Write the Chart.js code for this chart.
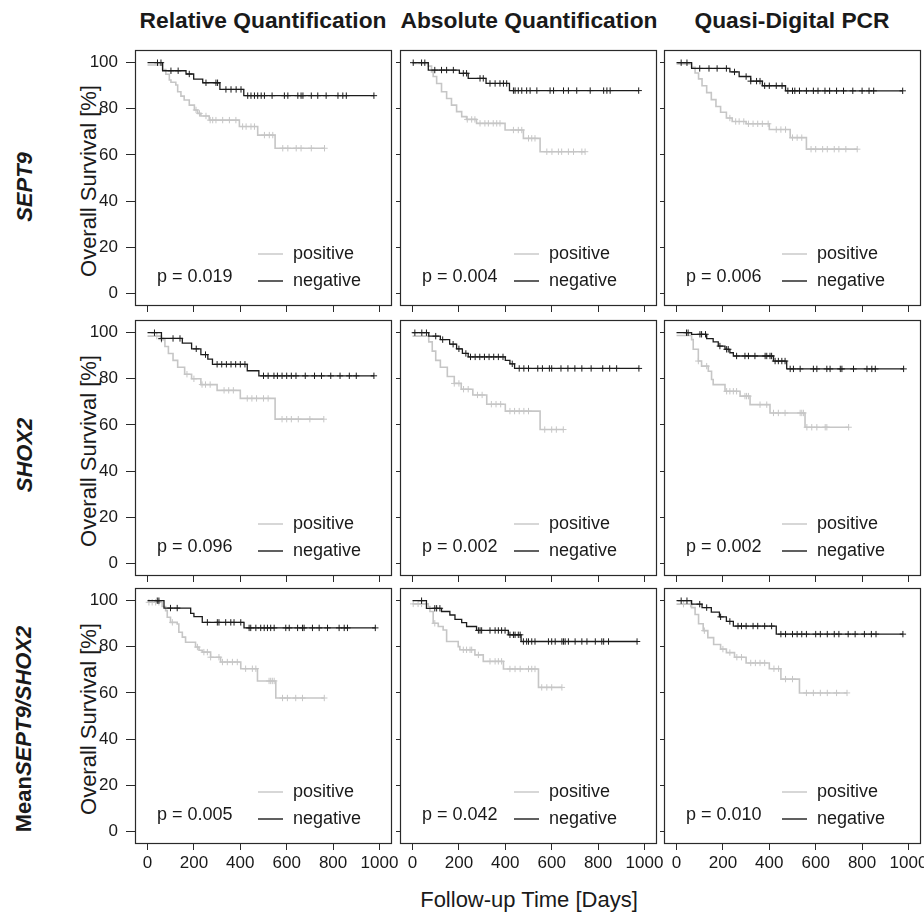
<!DOCTYPE html>
<html lang="en">
<head>
<meta charset="UTF-8">
<title>Overall survival by methylation status</title>
<script src="https://cdn.jsdelivr.net/npm/chart.js@4.4.0/dist/chart.umd.min.js"></script>
<style>
  body { margin: 0; background: #fff; }
  #wrap { position: relative; width: 924px; height: 913px; overflow: hidden;
          font-family: "Liberation Sans", Arial, Helvetica, sans-serif; color: #1a1a1a; }
  #wrap canvas { position: absolute; }
  .coltitle { position: absolute; top: 20px; transform: translate(-50%, -50%);
              font-weight: bold; font-size: 22.8px; white-space: nowrap; }
  .rot { position: absolute; transform: translate(-50%, -50%) rotate(-90deg); white-space: nowrap; }
  .rowlabel { font-weight: bold; font-size: 22px; }
  .ylab { font-size: 22px; }
  .xlab { position: absolute; left: 529px; top: 900px; transform: translate(-50%, -50%);
          font-size: 22px; white-space: nowrap; }
</style>
</head>
<body>
<div id="wrap">
  <div class="coltitle" style="left:263px">Relative Quantification</div>
  <div class="coltitle" style="left:529px">Absolute Quantification</div>
  <div class="coltitle" style="left:792px">Quasi-Digital PCR</div>

  <div class="rot rowlabel" style="left:25px;top:187px"><i>SEPT9</i></div>
  <div class="rot rowlabel" style="left:25px;top:455px"><i>SHOX2</i></div>
  <div class="rot rowlabel" style="left:24px;top:729px">Mean<i>SEPT9/SHOX2</i></div>

  <div class="rot ylab" style="left:89px;top:181px">Overall Survival [%]</div>
  <div class="rot ylab" style="left:89px;top:451px">Overall Survival [%]</div>
  <div class="rot ylab" style="left:89px;top:719px">Overall Survival [%]</div>

  <div class="xlab">Follow-up Time [Days]</div>
</div>
<script>
// axis ticks
const xTicks = [0, 200, 400, 600, 800, 1000];
const yTicks = [0, 20, 40, 60, 80, 100];
const pValues = [
  ['0.019', '0.004', '0.006'],
  ['0.096', '0.002', '0.002'],
  ['0.005', '0.042', '0.010']
];

// Kaplan-Meier steps: [day, survival % from that day on]; censored days listed separately
// SEPT9
const rqSept9Neg = [[0,100],[65,96.5],[166,95.1],[199,92.9],[238,91.3],[312,88.4],[415,85.7]];
const rqSept9NegCens = [43,58,101,132,180,252,295,302,338,360,382,403,432,446,461,475,490,504,537,590,605,648,662,670,706,734,770,821,842,857,976];
const rqSept9Pos = [[0,99],[65,97],[79,95],[94,92.5],[101,91.5],[122,90.3],[130,87.4],[144,85.5],[158,83.8],[180,81.6],[202,79.5],[216,78],[230,76.9],[266,75.1],[396,72.3],[475,68.6],[550,62.9]];
const rqSept9PosCens = [209,224,252,270,281,295,324,353,381,410,425,446,461,504,525,540,583,605,641,662,706,763];

const aqSept9Neg = [[0,100],[68,96.8],[202,95.4],[240,93.2],[317,91.0],[418,87.9]];
const aqSept9NegCens = [3,39,53,96,125,147,176,219,233,291,305,334,356,377,392,406,435,442,456,471,492,507,536,593,608,651,672,708,766,824,838,852,975];
const aqSept9Pos = [[0,99.7],[68,98.5],[82,96],[89,94],[104,91],[125,87.4],[147,84.5],[168,81.6],[190,78.8],[212,76.6],[233,75.4],[276,73.7],[399,70.8],[478,67.2],[550,61.4]];
const aqSept9PosCens = [236,255,269,291,312,327,348,363,377,435,456,471,500,514,528,579,601,629,643,672,694,730,744];

const qdSept9Neg = [[0,100],[65,97.5],[230,96],[270,94],[320,92],[370,90],[470,87.8]];
const qdSept9NegCens = [20,45,100,140,175,215,250,300,320,345,360,380,400,430,455,480,500,510,530,560,590,610,640,660,690,720,760,800,830,850,975];
const qdSept9Pos = [[0,99.5],[65,98],[80,95.5],[95,93],[110,90],[130,87],[150,84],[170,81],[190,78.5],[215,76],[240,74.5],[300,73.5],[400,71],[490,67.5],[560,62.5]];
const qdSept9PosCens = [230,255,270,290,310,330,350,370,395,430,450,470,500,520,540,580,600,630,650,680,700,730,779];

// SHOX2
const rqShox2Neg = [[0,100],[60,97.5],[150,95.5],[190,93],[230,90.5],[260,88.5],[280,86.3],[430,83.5],[480,81.3]];
const rqShox2NegCens = [30,60,110,140,210,250,300,320,340,360,380,400,420,500,520,545,560,580,600,620,640,680,720,750,790,830,870,900,976];
const rqShox2Pos = [[0,98.5],[60,97],[75,94],[90,91],[110,88],[130,85],[160,82],[190,80],[230,77.5],[300,75],[400,71.5],[550,62.5]];
const rqShox2PosCens = [40,60,170,200,235,250,270,330,350,370,430,450,470,500,520,580,600,620,650,700,760];

const aqShox2Neg = [[0,100],[70,98.5],[120,97],[160,95],[190,93],[215,91],[240,89.5],[400,88],[420,86.5],[440,84.5]];
const aqShox2NegCens = [10,40,60,100,130,175,200,230,250,270,290,310,330,350,370,390,430,460,480,500,540,560,590,600,640,670,700,730,770,820,850,880,976];
const aqShox2Pos = [[0,98.5],[70,96],[85,92],[100,88],[120,85],[150,81],[180,78],[210,75.5],[260,73],[320,69],[400,66],[550,58]];
const aqShox2PosCens = [180,200,220,240,280,300,340,360,380,420,440,460,480,500,570,600,620,650];

const qdShox2Neg = [[0,100],[65,99.3],[130,97.4],[158,96],[180,94.2],[209,92.8],[230,91.3],[245,89.9],[418,87.7],[475,84.3]];
const qdShox2NegCens = [43,50,101,108,125,187,216,223,259,295,310,338,382,389,403,410,425,439,454,468,490,504,533,590,605,648,662,706,713,763,821,842,857,979];
const qdShox2Pos = [[0,98.8],[65,97],[72,92.8],[94,87.7],[108,85.5],[137,83.3],[151,79.7],[158,77.5],[209,74.6],[274,72.5],[317,68.8],[403,65.2],[554,59]];
const qdShox2PosCens = [94,130,216,230,245,259,295,302,310,360,389,418,439,468,533,540,547,562,583,605,641,648,742];

// mean SEPT9/SHOX2
const rqMeanNeg = [[0,100],[71,96.8],[186,94.5],[200,93.1],[236,90.6],[416,88.2]];
const rqMeanNegCens = [42,49,99,128,258,301,308,337,359,373,402,438,445,467,488,503,517,531,546,596,611,647,668,675,711,740,776,826,848,862,982];
const rqMeanPos = [[0,99.3],[63,97.5],[78,95.7],[85,92.8],[99,90.6],[128,89.9],[135,86.3],[150,84.2],[164,82],[207,79.9],[222,78.5],[236,77.7],[272,75.5],[315,73.4],[402,70.5],[474,65.2],[553,57.8]];
const rqMeanPosCens = [6,20,35,49,107,215,243,258,272,308,323,344,366,387,423,452,467,524,531,538,546,582,603,639,668,762];

const aqMeanNeg = [[0,100],[60,96.7],[125,95.3],[161,93.8],[183,91.9],[212,90.5],[233,88.8],[276,87.1],[413,85.2],[468,82.3]];
const aqMeanNegCens = [39,96,104,118,284,291,298,334,356,370,384,399,420,435,442,456,464,478,492,500,514,528,586,600,615,644,651,658,672,701,730,752,788,816,824,845,968];
const aqMeanPos = [[0,98.6],[68,97.5],[75,95.3],[89,90.2],[111,88.8],[132,87.3],[147,82.3],[197,80.1],[204,78.7],[269,76.5],[305,73.7],[392,70.4],[543,62.4]];
const aqMeanPosCens = [3,24,39,96,219,233,248,255,284,334,356,370,384,420,442,464,500,514,528,557,579,600,644];

const qdMeanNeg = [[0,100],[65,98.5],[110,97],[150,95],[185,93],[215,91],[245,89],[430,85.5]];
const qdMeanNegCens = [20,45,100,130,190,230,265,280,300,330,350,380,410,450,470,500,520,540,560,600,620,650,680,700,740,770,810,840,860,976];
const qdMeanPos = [[0,98.5],[65,97],[80,94],[95,90],[115,87],[135,84],[160,81],[190,79],[215,77.5],[250,75.5],[300,73],[400,70.5],[450,66],[530,60]];
const qdMeanPosCens = [30,60,120,200,230,260,280,320,340,360,380,420,440,470,500,560,590,620,650,690,735];

const panels = [
  [[rqSept9Neg, rqSept9NegCens, rqSept9Pos, rqSept9PosCens],
   [aqSept9Neg, aqSept9NegCens, aqSept9Pos, aqSept9PosCens],
   [qdSept9Neg, qdSept9NegCens, qdSept9Pos, qdSept9PosCens]],
  [[rqShox2Neg, rqShox2NegCens, rqShox2Pos, rqShox2PosCens],
   [aqShox2Neg, aqShox2NegCens, aqShox2Pos, aqShox2PosCens],
   [qdShox2Neg, qdShox2NegCens, qdShox2Pos, qdShox2PosCens]],
  [[rqMeanNeg, rqMeanNegCens, rqMeanPos, rqMeanPosCens],
   [aqMeanNeg, aqMeanNegCens, aqMeanPos, aqMeanPosCens],
   [qdMeanNeg, qdMeanNegCens, qdMeanPos, qdMeanPosCens]]
];

// layout
const boxLeft = [134.5, 400, 664];
const boxTop = [50, 320, 588];
const boxW = 257, boxH = 256, pad = 20, padB = 16;
const legendX = [123, 114, 118];
const blackCol = '#1c1c1c', grayCol = '#c6c6c6';
const fontFam = '"Liberation Sans", Arial, Helvetica, sans-serif';

function stepPoints(steps, cens) {
  const pts = steps.map(s => ({ x: s[0], y: s[1] }));
  pts.push({ x: Math.max(...cens), y: steps[steps.length - 1][1] });
  return pts;
}
function survAt(steps, t) {
  let s = steps[0][1];
  for (const st of steps) if (st[0] <= t) s = st[1];
  return s;
}
function censPoints(steps, cens) {
  return cens.map(t => ({ x: t, y: survAt(steps, t) }));
}

const kmDecor = {
  id: 'kmDecor',
  afterDraw(chart, args, opts) {
    const ctx = chart.ctx, a = chart.chartArea;
    ctx.save();
    ctx.strokeStyle = '#2a2a2a';
    ctx.lineWidth = 1.2;
    ctx.strokeRect(a.left + 0.5, a.top + 0.5, a.width - 1, a.height - 1);
    ctx.font = '18px ' + fontFam;
    ctx.fillStyle = '#1a1a1a';
    ctx.textBaseline = 'middle';
    ctx.textAlign = 'left';
    ctx.fillText('p = ' + opts.p, a.left + 22, a.top + 227);
    const lx = a.left + opts.lx;
    [['positive', grayCol, 204], ['negative', blackCol, 231]].forEach(([lab, col, dy]) => {
      ctx.strokeStyle = col;
      ctx.lineWidth = 1.4;
      ctx.beginPath();
      ctx.moveTo(lx, a.top + dy);
      ctx.lineTo(lx + 25, a.top + dy);
      ctx.stroke();
      ctx.fillStyle = '#1a1a1a';
      ctx.fillText(lab, lx + 35, a.top + dy);
    });
    ctx.restore();
  }
};

const wrap = document.getElementById('wrap');
for (let r = 0; r < 3; r++) {
  for (let c = 0; c < 3; c++) {
    const [neg, negC, pos, posC] = panels[r][c];
    const lw = c === 0 ? 50 : 5;
    const bh = r === 2 ? 30 : 6;
    const cv = document.createElement('canvas');
    cv.width = lw + boxW + pad;
    cv.height = pad + boxH + bh + padB;
    cv.style.left = (boxLeft[c] - lw) + 'px';
    cv.style.top = (boxTop[r] - pad) + 'px';
    wrap.appendChild(cv);

    new Chart(cv.getContext('2d'), {
      type: 'line',
      data: {
        datasets: [
          { data: stepPoints(neg, negC), borderColor: blackCol, borderWidth: 1.3,
            stepped: true, pointRadius: 0, fill: false, order: 0 },
          { data: censPoints(neg, negC), showLine: false, pointStyle: 'cross', pointRadius: 3.2,
            pointBorderWidth: 1, borderColor: blackCol, order: 1 },
          { data: stepPoints(pos, posC), borderColor: grayCol, borderWidth: 1.6,
            stepped: true, pointRadius: 0, fill: false, order: 2 },
          { data: censPoints(pos, posC), showLine: false, pointStyle: 'cross', pointRadius: 3.2,
            pointBorderWidth: 1, borderColor: grayCol, order: 3 }
        ]
      },
      options: {
        responsive: false,
        animation: false,
        layout: { padding: { top: pad, right: pad, left: 0, bottom: padB } },
        plugins: {
          legend: { display: false },
          tooltip: { enabled: false },
          kmDecor: { p: pValues[r][c], lx: legendX[c] }
        },
        scales: {
          x: {
            type: 'linear', min: -54, max: 1054,
            afterBuildTicks: s => { s.ticks = xTicks.map(v => ({ value: v })); },
            afterFit: s => { s.height = bh; },
            ticks: { display: r === 2, font: { size: 17, family: fontFam }, color: '#1a1a1a',
                     padding: 3, maxRotation: 0, autoSkip: false, callback: v => String(v) },
            grid: { display: true, drawOnChartArea: false, drawTicks: true, tickLength: 6, color: '#2a2a2a' },
            border: { display: false }
          },
          y: {
            type: 'linear', min: -5.5, max: 105.5,
            afterBuildTicks: s => { s.ticks = yTicks.map(v => ({ value: v })); },
            afterFit: s => { s.width = lw; },
            ticks: { display: c === 0, font: { size: 17, family: fontFam }, color: '#1a1a1a',
                     padding: 8, autoSkip: false, callback: v => String(v) },
            grid: { display: true, drawOnChartArea: false, drawTicks: true,
                    tickLength: c === 0 ? 9 : 4, color: '#2a2a2a' },
            border: { display: false }
          }
        }
      },
      plugins: [kmDecor]
    });
  }
}
</script>
</body>
</html>
